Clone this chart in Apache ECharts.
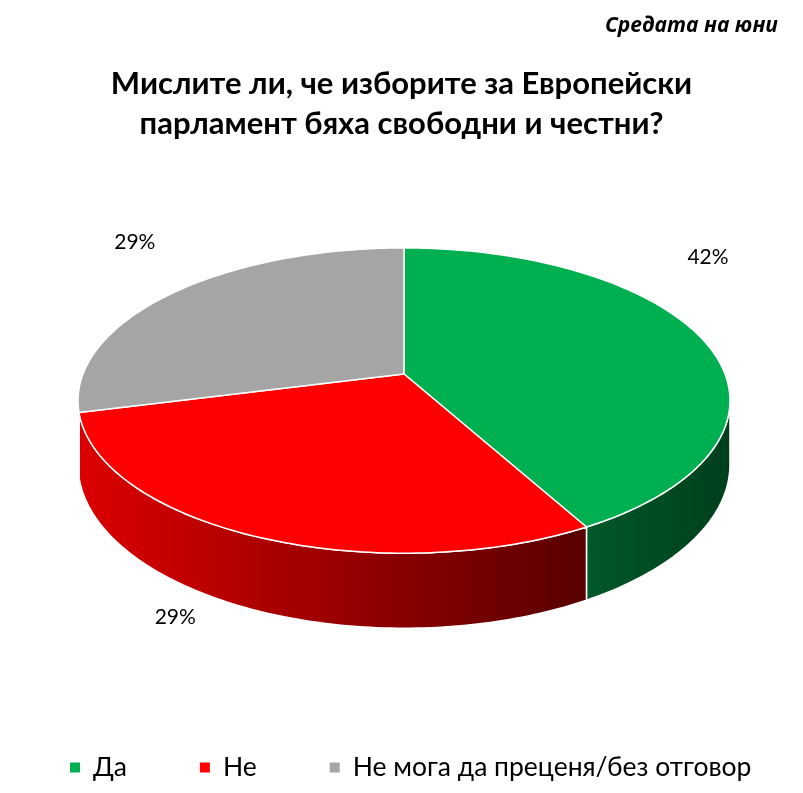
<!DOCTYPE html>
<html>
<head>
<meta charset="utf-8">
<script src="https://cdn.jsdelivr.net/npm/echarts@6/dist/echarts.min.js"></script>
<style>
    html, body { margin: 0; padding: 0; background: #fff; }
    #chart { width: 803px; height: 793px; }
</style>
</head>
<body>
<div id="chart"></div>
<script>
// data
var categories = ['Да', 'Не', 'Не мога да преценя/без отговор'];
var values = [42, 29, 29];
var labels = ['42%', '29%', '29%'];
var titleLines = ['Мислите ли, че изборите за Европейски', 'парламент бяха свободни и честни?'];

// colours: top face, wall gradient (light -> dark)
var topColors = ['#00B050', '#FF0000', '#A5A5A5'];
var wallColors = [['#005828', '#003F1C'], ['#DC0000', '#580000'], ['#8A8A8A', '#6A6A6A']];

// fake perspective of the disc
var VIEW = {
    cx: 404, cy: 374,   // centre of the top face
    rx: 321, ry: 148,   // radii before perspective
    k: 0.174,           // perspective strength (front grows, back shrinks)
    depth: 62           // wall height
};
// label nudges from the rim point of each slice's middle
var labelNudge = [[6, -81], [-77, 82], [-40, -50]];

var FONT = 'Lato, "Open Sans", sans-serif';

function proj(deg, r, down) {
    var a = deg * Math.PI / 180;
    var u = Math.sin(a) * r, v = -Math.cos(a) * r;
    var s = 1 / (1 - VIEW.k * v);
    return [VIEW.cx + VIEW.rx * u * s, VIEW.cy + VIEW.ry * v * s + (down ? VIEW.depth * s : 0)];
}

function arc(a0, a1, down) {
    var pts = [], n = Math.max(2, Math.ceil(Math.abs(a1 - a0)));
    for (var i = 0; i <= n; i++) {
        pts.push(proj(a0 + (a1 - a0) * i / n, 1, down));
    }
    return pts;
}

var total = values.reduce(function (a, b) { return a + b; }, 0);
var silhouette = Math.acos(-VIEW.k) * 180 / Math.PI; // ~100 deg

var renderSlice = function (params, api) {
    var idx = params.seriesIndex;
    var before = 0;
    for (var i = 0; i < idx; i++) before += values[i];
    var a0 = before / total * 360;
    var a1 = (before + api.value(1)) / total * 360;
    var children = [];

    // wall, only the part facing the viewer
    var w0 = Math.max(a0, silhouette), w1 = Math.min(a1, 360 - silhouette);
    if (w1 > w0) {
        var wall = arc(w0, w1, false).concat(arc(w1, w0, true));
        children.push({
            type: 'polygon',
            z2: 0,
            shape: { points: wall },
            style: {
                fill: new echarts.graphic.LinearGradient(0, 0, 1, 0, [
                    { offset: 0, color: wallColors[idx][0] },
                    { offset: 1, color: wallColors[idx][1] }
                ]),
                stroke: '#fff',
                lineWidth: 1.5,
                lineJoin: 'round'
            }
        });
    }

    // top face
    var top = [[VIEW.cx, VIEW.cy]].concat(arc(a0, a1, false));
    children.push({
        type: 'polygon',
        z2: 10,
        shape: { points: top },
        style: { fill: topColors[idx], stroke: '#fff', lineWidth: 1.5, lineJoin: 'round' }
    });

    // label
    var mid = proj((a0 + a1) / 2, 1, false);
    children.push({
        type: 'text',
        z2: 20,
        style: {
            text: labels[idx],
            x: mid[0] + labelNudge[idx][0],
            y: mid[1] + labelNudge[idx][1],
            fill: '#000',
            font: '21px ' + FONT,
            align: 'center',
            verticalAlign: 'middle'
        }
    });
    return { type: 'group', children: children };
};

var arrSeries = [];
categories.forEach(function (name, i) {
    arrSeries.push({
        name: name,
        type: 'custom',
        coordinateSystem: 'none',
        itemStyle: { color: topColors[i] },
        data: [[i, values[i]]],
        renderItem: renderSlice,
        silent: true
    });
});

var arrTitles = titleLines.map(function (line, i) {
    return {
        text: line,
        left: 'center',
        top: 63 + i * 40,
        textStyle: { fontFamily: FONT, fontSize: 31, fontWeight: 'bold', color: '#000' }
    };
});
arrTitles.push({
    text: 'Средата на юни',
    right: 20,
    top: 11,
    textStyle: { fontFamily: '"Open Sans", sans-serif', fontSize: 21, fontWeight: 'bold', fontStyle: 'italic', color: '#000' }
});

var chart = echarts.init(document.getElementById('chart'));
chart.setOption({
    animation: false,
    title: arrTitles,
    legend: {
        data: categories,
        left: 65,
        top: 749,
        icon: 'rect',
        itemWidth: 10,
        itemHeight: 10,
        itemGap: 73,
        selectedMode: false,
        textStyle: { fontFamily: FONT, fontSize: 26.5, color: '#000', padding: [0, 0, 0, 8] }
    },
    series: arrSeries
});
</script>
</body>
</html>
